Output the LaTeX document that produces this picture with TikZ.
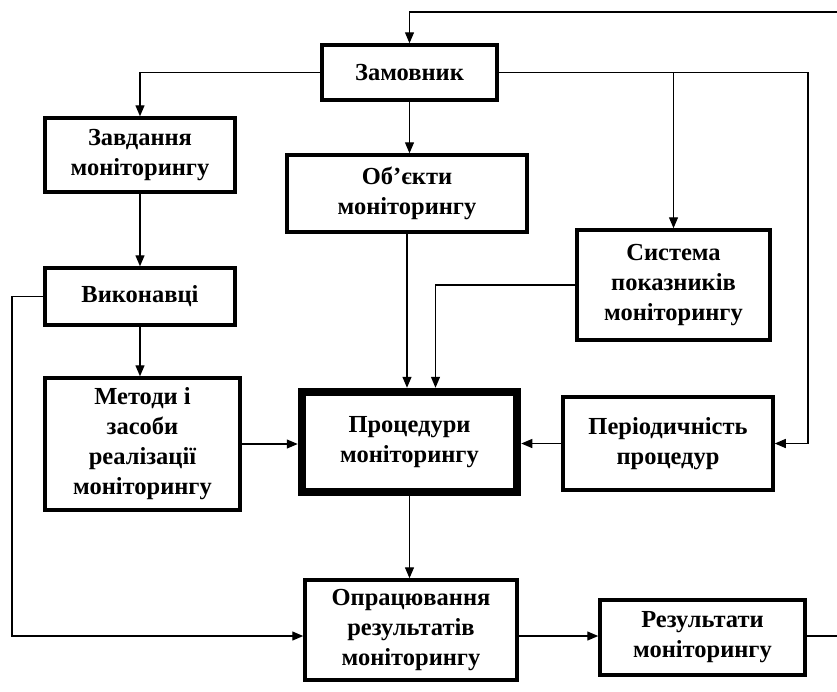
\documentclass[tikz,border=0pt]{standalone}
\usepackage{fontspec}
\setmainfont{Liberation Serif}
\usetikzlibrary{arrows.meta}
\begin{document}
\begin{tikzpicture}[x=1pt,y=-1pt,
  box/.style={draw,line width=3.5pt,align=center,inner sep=1pt,
    font=\bfseries\fontsize{24.5}{30}\selectfont},
  mainbox/.style={box,line width=8.5pt},
  arr/.style={line width=1.3pt,-{Triangle[length=11pt,width=9pt]}},
  ln/.style={line width=1.3pt}]
\useasboundingbox (0,0) rectangle (837,691);
% blocks
\node[box,minimum width=175pt,minimum height=55pt] (zam) at (409.5,72.5) {Замовник};
\node[box,minimum width=190pt,minimum height=74pt] (zav) at (140,155) {Завдання\\моніторингу};
\node[box,minimum width=240pt,minimum height=77pt] (obj) at (407,193.5) {Об’єкти\\моніторингу};
\node[box,minimum width=193pt,minimum height=110pt] (sys) at (673.5,285) {Система\\показників\\моніторингу};
\node[box,minimum width=190pt,minimum height=57pt] (vyk) at (140,296.5) {Виконавці};
\node[box,minimum width=195pt,minimum height=132pt] (met) at (142.5,444) {Методи і\\засоби\\реалізації\\моніторингу};
\node[mainbox,minimum width=215pt,minimum height=100pt] (proc) at (409.5,442) {Процедури\\моніторингу};
\node[box,minimum width=210pt,minimum height=93pt] (per) at (668,443.5) {Періодичність\\процедур};
\node[box,minimum width=212pt,minimum height=100pt] (opr) at (411,630) {Опрацювання\\результатів\\моніторингу};
\node[box,minimum width=205pt,minimum height=75pt] (res) at (702.5,637.5) {Результати\\моніторингу};
% helper points for the outer loops
\coordinate (topR) at (837,12);
\coordinate (rc) at (808,72.5);
\coordinate (lc) at (12,296.5);
\coordinate (outR) at (837,636);
% connectors
\draw[arr] (topR) -| (zam.north);
\draw[arr] (zam.west) -| (zav.north);
\draw[arr] (zam.east) -- (rc) |- (per.east);
\draw[arr] (sys.north |- zam.east) -- (sys.north);
\draw[arr] (zam.south) -- (zam.south |- obj.north);
\draw[arr] (zav.south) -- (vyk.north);
\draw[arr] (vyk.south) -- (vyk.south |- met.north);
\draw[arr] (obj.south) -- (obj.south |- proc.north);
\draw[arr] (sys.west) -| ([xshift=26pt]proc.north);
\draw[arr] (met.east) -- (met.east -| proc.west);
\draw[arr] (per.west) -- (per.west -| proc.east);
\draw[arr] (proc.south) -- (proc.south |- opr.north);
\draw[arr] (vyk.west) -- (lc) |- (opr.west |- outR);
\draw[arr] (opr.east |- outR) -- (res.west |- outR);
\draw[ln] (res.east |- outR) -- (outR);
\end{tikzpicture}
\end{document}
